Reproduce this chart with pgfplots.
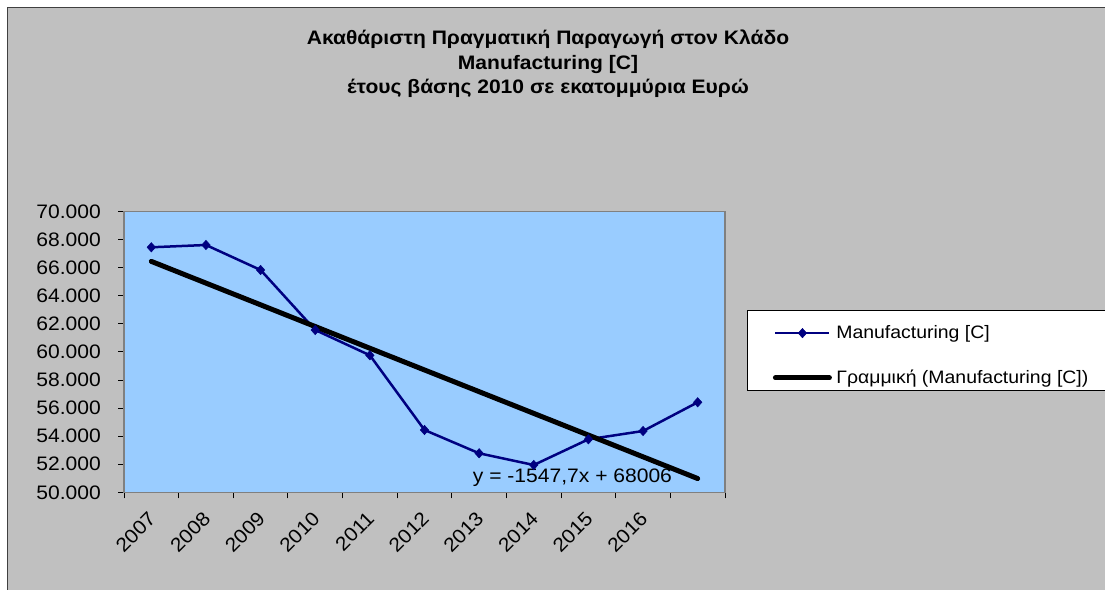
\documentclass[border=0pt]{standalone}
\usepackage{fontspec}
\setmainfont[FakeStretch=1.08]{Liberation Sans}
\usepackage{pgfplots}
\pgfplotsset{compat=1.18}
\definecolor{chartgray}{HTML}{C0C0C0}
\definecolor{plotblue}{HTML}{99CCFF}
\definecolor{navyline}{HTML}{000080}
\definecolor{framegray}{HTML}{808080}
\newcommand{\tf}{\fontsize{19.5}{23}\selectfont}
\newcommand{\lf}{\fontsize{18}{21}\selectfont}
\pgfplotsset{
  datalegend/.style={legend image code/.code={\draw[##1, mark repeat=2, mark phase=2] plot coordinates {(0pt,0pt) (27pt,0pt) (54pt,0pt)};}},
  trendlegend/.style={legend image code/.code={\draw[##1] (0pt,0pt) -- (54pt,0pt);}},
}
\begin{document}
\begin{tikzpicture}
\path[use as bounding box] (0pt,0pt) rectangle (1105pt,589pt);
\fill[white] (0pt,0pt) rectangle (1105pt,589pt);
\fill[chartgray] (7.5pt,-5pt) rectangle (1115pt,581.5pt);
\draw[black!75, line width=1.8pt] (7.5pt,-5pt) -- (7.5pt,581.5pt) -- (1115pt,581.5pt);
\node[font=\bfseries\tf, anchor=base] at (548pt,544pt) {Ακαθάριστη Πραγματική Παραγωγή στον Κλάδο};
\node[font=\bfseries\tf, anchor=base] at (548pt,519.7pt) {Manufacturing [C]};
\node[font=\bfseries\tf, anchor=base] at (548pt,495pt) {έτους βάσης 2010 σε εκατομμύρια Ευρώ};
\filldraw[fill=white, draw=black, line width=1.3pt] (747.3pt,198.3pt) rectangle (1120pt,278.3pt);
\begin{axis}[
  at={(124pt,96.7pt)}, anchor=south west,
  scale only axis, width=601pt, height=280.6pt,
  xmin=0.5, xmax=11.5, ymin=50000, ymax=70000,
  axis background/.style={fill=plotblue},
  axis line style={draw=framegray, line width=1.5pt},
  tick align=outside,
  major tick length=6pt, minor tick length=6pt,
  tick style={black, line width=1pt},
  xtick={0,...,12},
  xticklabels={,2007,2008,2009,2010,2011,2012,2013,2014,2015,2016,,},
  minor x tick num=1,
  major x tick style={draw=none},
  ytick={50000,52000,...,70000},
  scaled y ticks=false,
  xtick pos=bottom, ytick pos=left,
  tick label style={font=\tf},
  yticklabel style={/pgf/number format/fixed, /pgf/number format/precision=0,
    /pgf/number format/1000 sep={.}, /pgf/number format/assume math mode=true,
    anchor=east, inner sep=0pt, xshift=-17pt},
  xticklabel style={xshift=1pt, yshift=-17pt, rotate=45, anchor=east, inner sep=0pt},
  legend style={at={(axis description cs:1.0794,0.487)}, anchor=west,
    draw=none, fill=none, inner sep=0pt, row sep=30pt, column sep=4.4pt,
    font=\lf, nodes={inner sep=0pt}},
  legend cell align=left,
]
\addplot[navyline, line width=2.5pt, mark=diamond*, mark size=4.7pt,
  mark options={xscale=1.2, solid, line width=0.5pt}, datalegend]
  coordinates {(1,67463) (2,67627) (3,65845) (4,61568) (5,59765) (6,54441) (7,52780) (8,51946) (9,53778) (10,54369) (11,56415)};
\addlegendentry{Manufacturing [C]}
\addplot[black, line width=5pt, line cap=round, trendlegend]
  coordinates {(1,66458.3) (11,50981)};
\addlegendentry{Γραμμική (Manufacturing [C])}
\node[font=\tf] at (axis cs:8.708,51041) {y = -1547,7x + 68006};
\end{axis}
\end{tikzpicture}
\end{document}
